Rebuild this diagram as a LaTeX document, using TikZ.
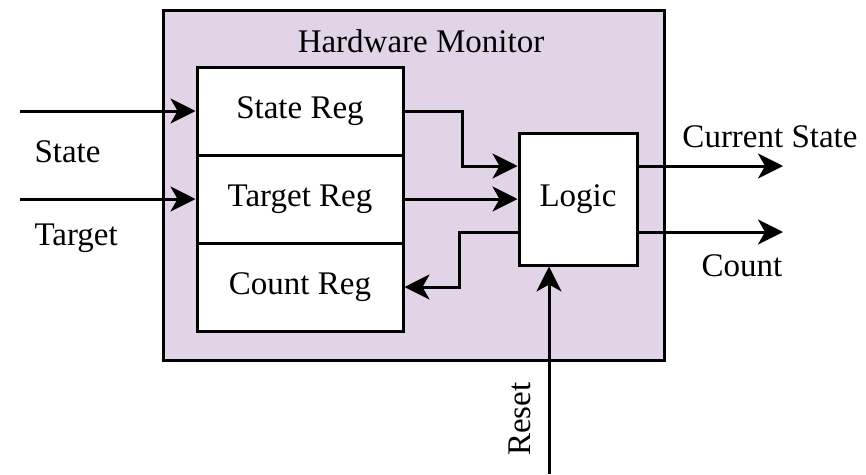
\documentclass[tikz,border=0pt]{standalone}
\usepackage{fontspec}
\setmainfont{Liberation Serif}
\usetikzlibrary{arrows.meta}
\definecolor{monitorfill}{RGB}{224,212,230}

\begin{document}
\begin{tikzpicture}[x=1pt,y=-1pt,line width=3pt,font=\fontsize{33}{38}\selectfont,
  >={Stealth[length=25pt,width=25pt,inset=7pt]}]
\tikzstyle{reg}=[draw,fill=white,minimum width=206pt,minimum height=88pt,inner sep=0]
\tikzstyle{lbl}=[inner sep=0]
\useasboundingbox (0,0) rectangle (866,474);
% monitor box
\node[draw,fill=monitorfill,minimum width=501pt,minimum height=350pt,inner sep=0] (monitor) at (413.5,185) {};
\node[lbl] (title) at (421,41) {Hardware Monitor};
% registers
\foreach \y/\n/\t in {111/statereg/State Reg,199/targetreg/Target Reg,287/countreg/Count Reg}{
\node[reg] (\n) at (300,\y) {\t};
};
\node[draw,fill=white,minimum width=118pt,minimum height=132pt,inner sep=0] (logic) at (578,199) {Logic};
% inputs
\coordinate (statein) at (20,111);
\coordinate (targetin) at (20,199);
\coordinate (resetin) at (549,474);
\draw[->] (statein) -- (statereg.west);
\draw[->] (targetin) -- (targetreg.west);
\node[lbl,anchor=west] (statelbl) at (33,152) {State};
\node[lbl,anchor=west] (targetlbl) at (33,238) {Target};
\draw[->] (resetin) -- ([xshift=-29pt]logic.south);
\node[lbl,rotate=90] (resetlbl) at (520,419) {Reset};
% registers to logic and back
\draw[->] (statereg.east) -- ++(58,0) |- ([yshift=33pt]logic.west);
\draw[->] (targetreg.east) -- (logic.west);
\draw[->] ([yshift=-33pt]logic.west) -- ++(-58,0) |- (countreg.east);
% outputs
\coordinate (curout) at (783,166);
\coordinate (countout) at (783,232);
\draw[->] ([yshift=33pt]logic.east) -- (curout);
\draw[->] ([yshift=-33pt]logic.east) -- (countout);
\node[lbl] (curlbl) at (770,137) {Current State};
\node[lbl] (countlbl) at (742,266) {Count};
\end{tikzpicture}
\end{document}
